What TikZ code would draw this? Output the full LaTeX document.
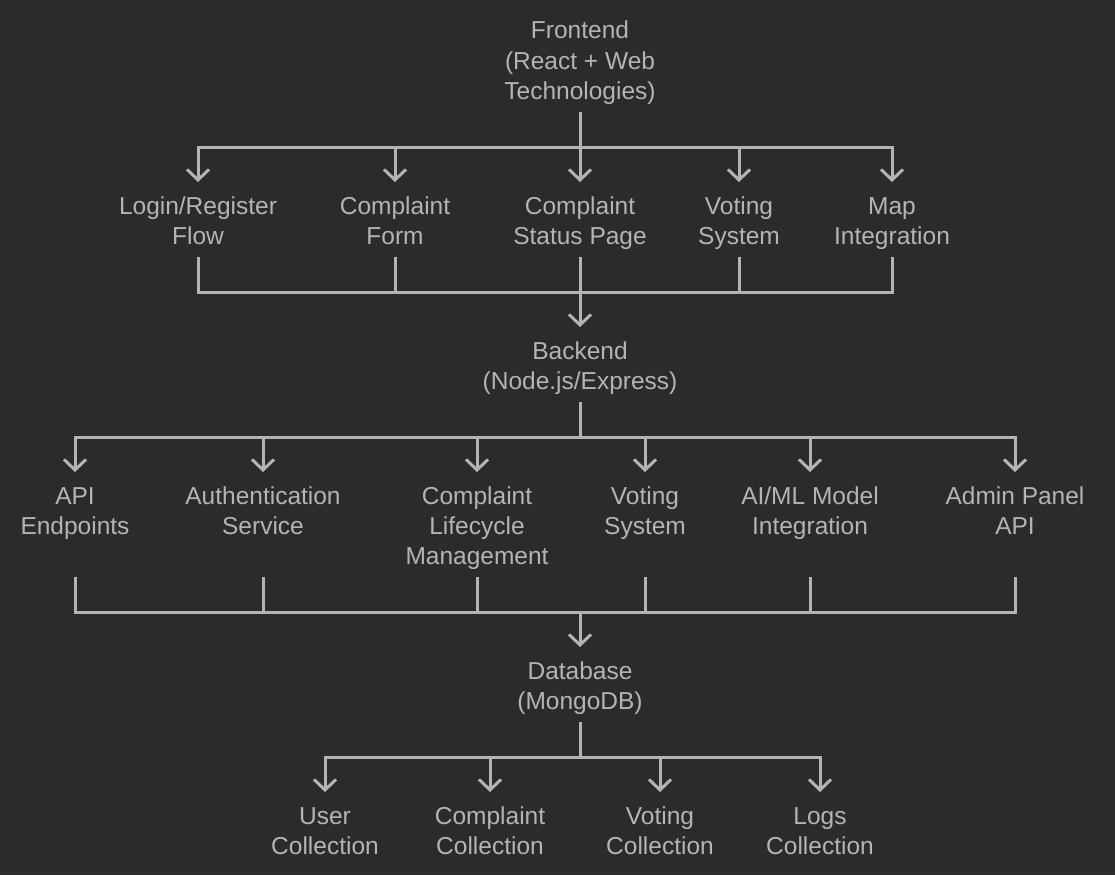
\documentclass[tikz,border=0pt]{standalone}
\usepackage{fontspec}
\setmainfont{Liberation Sans}
\usetikzlibrary{arrows.meta}
\definecolor{bg}{RGB}{43,43,43}
\definecolor{fg}{RGB}{180,180,180}
\newcommand{\stt}{\rule[-6pt]{0pt}{30pt}}
\begin{document}
\begin{tikzpicture}[x=1pt,y=-1pt,
  lbl/.style={text=fg, font=\fontsize{24.5}{30}\selectfont, align=center, inner sep=0pt, outer sep=0pt},
  conn/.style={draw=fg, line width=3pt, shorten <=7pt},
  arr/.style={draw=fg, line width=3pt, -{Straight Barb[length=10.5pt,width=22pt]}, shorten >=8pt}]
\fill[bg] (0,0) rectangle (1115,875);
\useasboundingbox (0,0) rectangle (1115,875);

% level 0
\node[lbl] (fe) at (580,60) {\stt Frontend\\\stt (React + Web\\\stt Technologies)};
% level 1
\node[lbl] (login) at (198,220) {\stt Login/Register\\\stt Flow};
\node[lbl] (cform) at (395,220) {\stt Complaint\\\stt Form};
\node[lbl] (cstat) at (580,220) {\stt Complaint\\\stt Status Page};
\node[lbl] (vote1) at (739,220) {\stt Voting\\\stt System};
\node[lbl] (map) at (892,220) {\stt Map\\\stt Integration};
% backend
\node[lbl] (be) at (580,365) {\stt Backend\\\stt (Node.js/Express)};
% level 2
\node[lbl] (api) at (75,525) {\stt API\\\stt Endpoints\\\stt};
\node[lbl] (auth) at (263,525) {\stt Authentication\\\stt Service\\\stt};
\node[lbl] (life) at (477,525) {\stt Complaint\\\stt Lifecycle\\\stt Management};
\node[lbl] (vote2) at (645,525) {\stt Voting\\\stt System\\\stt};
\node[lbl] (aiml) at (810,525) {\stt AI/ML Model\\\stt Integration\\\stt};
\node[lbl] (admin) at (1015,525) {\stt Admin Panel\\\stt API\\\stt};
% database
\node[lbl] (db) at (580,685) {\stt Database\\\stt (MongoDB)};
% level 3
\node[lbl] (user) at (325,830) {\stt User\\\stt Collection};
\node[lbl] (ccol) at (490,830) {\stt Complaint\\\stt Collection};
\node[lbl] (vcol) at (660,830) {\stt Voting\\\stt Collection};
\node[lbl] (lcol) at (820,830) {\stt Logs\\\stt Collection};

% junctions
\coordinate (j0) at (580,147);
\coordinate (j1) at (580,292);
\coordinate (j2) at (580,437);
\coordinate (j3) at (580,612);
\coordinate (j4) at (580,757);

% frontend -> level 1
\draw[conn] (fe) -- (j0);
\foreach \n in {login,cform,cstat,vote1,map} \draw[arr] (j0) -| (\n);
% level 1 -> backend
\foreach \n in {login,cform,cstat,vote1,map} \draw[conn] (\n) |- (j1);
\draw[arr] (j1) -- (be);
% backend -> level 2
\draw[conn] (be) -- (j2);
\foreach \n in {api,auth,life,vote2,aiml,admin} \draw[arr] (j2) -| (\n);
% level 2 -> database
\foreach \n in {api,auth,life,vote2,aiml,admin} \draw[conn] (\n) |- (j3);
\draw[arr] (j3) -- (db);
% database -> level 3
\draw[conn] (db) -- (j4);
\foreach \n in {user,ccol,vcol,lcol} \draw[arr] (j4) -| (\n);
\end{tikzpicture}
\end{document}
